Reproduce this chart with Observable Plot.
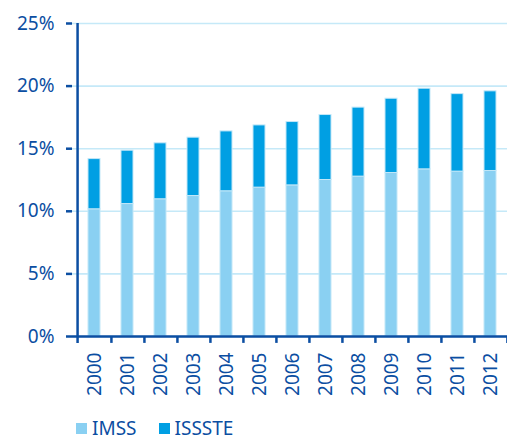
<!DOCTYPE html>
<html><head><meta charset="utf-8">
<script src="https://cdn.jsdelivr.net/npm/d3@7"></script>
<script src="https://cdn.jsdelivr.net/npm/@observablehq/plot@0.6"></script>
<style>
body{margin:0;overflow:hidden;background:#fff;font-family:"Noto Sans",sans-serif;}
#wrap{position:relative;width:507px;height:440px;overflow:hidden;}
#legend{position:absolute;left:76px;top:418px;display:flex;align-items:center;font-size:19px;line-height:20px;color:#0b4ea2;}
#legend .item{display:flex;align-items:center;margin-right:22px;}
#legend .sw{width:11px;height:11px;margin-right:5px;}
</style></head>
<body><div id="wrap"></div>
<script>
const years = ["2000","2001","2002","2003","2004","2005","2006","2007","2008","2009","2010","2011","2012"];
const imss = [10.16, 10.58, 10.96, 11.22, 11.6, 11.89, 12.07, 12.5, 12.77, 13.06, 13.35, 13.17, 13.22];
const issste = [4.01, 4.26, 4.47, 4.66, 4.78, 4.97, 5.06, 5.19, 5.51, 5.93, 6.44, 6.19, 6.36];
const seriesNames = ["IMSS", "ISSSTE"];
const seriesColors = ["#8ad0f2", "#009fe3"];
const yTicks = [0, 5, 10, 15, 20, 25];

const rows = years.flatMap((y, i) => [
  {year: y, series: "IMSS", value: imss[i]},
  {year: y, series: "ISSSTE", value: issste[i]}
]);
const axisColor = "#0b4ea2";
const x0 = 72, x1 = 512;
const step = (x1 - x0) / years.length;

const chart = Plot.plot({
  width: 507, height: 405,
  marginTop: 23, marginLeft: 72, marginRight: 0, marginBottom: 69,
  style: {fontFamily: "'Noto Sans', sans-serif", color: axisColor, background: "white"},
  x: {domain: years, range: [x0, x1], padding: 0.64, paddingOuter: 0.32, align: 0.5, axis: null},
  y: {domain: [0, 25], axis: null},
  color: {domain: seriesNames, range: seriesColors},
  marks: [
    Plot.gridY(yTicks, {stroke: "#c5e9f8", strokeOpacity: 1, strokeWidth: 1.6}),
    Plot.barY(rows, Plot.stackY({x: "year", y: "value", fill: "series", order: seriesNames, stroke: "#c2e7f8", strokeWidth: 1})),
    Plot.ruleY([0], {stroke: axisColor, strokeWidth: 2.5}),
    Plot.ruleX([years[0]], {x: d => d, dx: -step / 2, y1: -0.55, y2: 25, stroke: axisColor, strokeWidth: 2.5}),
    Plot.ruleX(years, {x: d => d, dx: step / 2, y1: 0, y2: -0.55, stroke: axisColor, strokeWidth: 2.5}),
    Plot.axisY(yTicks, {label: null, tickSize: 6, tickPadding: 12, tickFormat: d => d + "%", fontSize: 19, strokeWidth: 2.5}),
    Plot.axisX({label: null, tickSize: 0, tickPadding: 16, tickRotate: -90, fontSize: 19})
  ]
});
const wrap = document.getElementById("wrap");
wrap.appendChild(chart);
const legend = document.createElement("div");
legend.id = "legend";
seriesNames.forEach((n, i) => {
  const it = document.createElement("div");
  it.className = "item";
  const sw = document.createElement("span");
  sw.className = "sw";
  sw.style.background = seriesColors[i];
  const t = document.createElement("span");
  t.textContent = n;
  it.appendChild(sw); it.appendChild(t);
  legend.appendChild(it);
});
wrap.appendChild(legend);
</script>
</body></html>
